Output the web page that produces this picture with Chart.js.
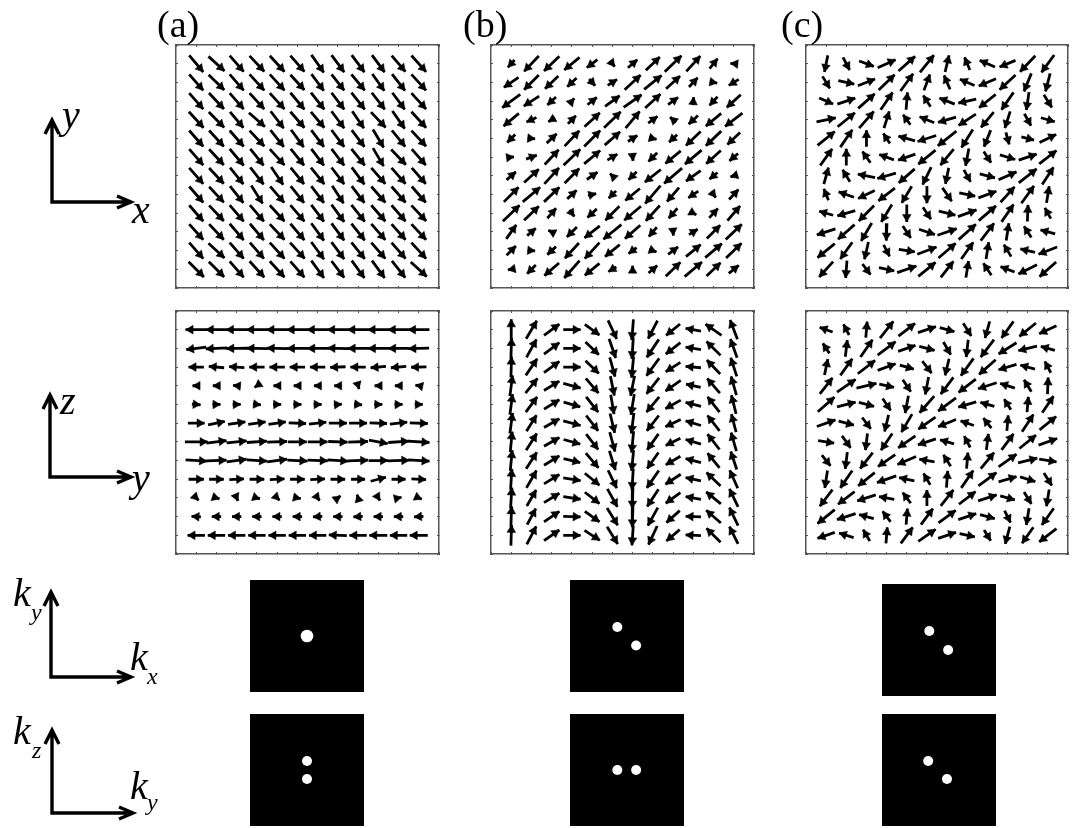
<!DOCTYPE html>
<html>
<head>
<meta charset="utf-8">
<title>Spin textures</title>
<script src="https://cdn.jsdelivr.net/npm/chart.js@4"></script>
<style>
    html, body { margin: 0; padding: 0; background: #fff; }
    #page { position: relative; width: 1075px; height: 828px; overflow: hidden; }
    #page canvas { position: absolute; }
    #page span { position: absolute; font-family: "Liberation Serif", serif; color: #000; white-space: nowrap; }
</style>
</head>
<body>
<div id="page"></div>
<script>
// Arrows: one row per line of the grid, top row first, as u,v pairs (v points up)
const xyA = [
    [42,-50, 48,-44, 42,-48, 44,-47, 44,-48, 42,-48, 37,-53, 38,-51, 38,-51, 38,-51, 41,-48, 44,-49],
    [42,-48, 47,-46, 42,-48, 44,-48, 44,-48, 42,-46, 37,-50, 38,-48, 40,-48, 36,-50, 39,-50, 44,-48],
    [42,-48, 45,-48, 42,-48, 44,-48, 44,-48, 42,-50, 40,-50, 38,-50, 40,-50, 39,-50, 37,-50, 44,-48],
    [44,-48, 46,-46, 40,-48, 48,-42, 39,-51, 42,-48, 40,-48, 38,-51, 35,-51, 44,-46, 37,-53, 44,-48],
    [42,-48, 44,-48, 42,-48, 44,-47, 40,-50, 38,-52, 38,-50, 38,-51, 38,-50, 32,-54, 40,-49, 44,-47],
    [42,-48, 44,-47, 42,-50, 40,-50, 44,-48, 40,-50, 38,-50, 38,-50, 40,-50, 32,-54, 44,-46, 42,-48],
    [42,-48, 44,-47, 40,-50, 40,-51, 36,-53, 40,-50, 40,-50, 38,-50, 38,-51, 42,-48, 42,-48, 42,-48],
    [42,-48, 44,-47, 40,-50, 34,-54, 42,-49, 40,-50, 38,-50, 34,-53, 38,-50, 42,-48, 42,-48, 42,-48],
    [42,-48, 44,-47, 42,-49, 42,-49, 44,-48, 42,-49, 38,-50, 38,-52, 40,-50, 42,-48, 42,-48, 44,-47],
    [42,-47, 44,-47, 42,-49, 42,-49, 44,-47, 42,-49, 38,-52, 38,-51, 40,-50, 42,-48, 42,-47, 44,-47],
    [42,-48, 48,-44, 42,-48, 42,-48, 44,-48, 44,-48, 38,-52, 38,-51, 40,-50, 42,-48, 42,-48, 44,-48],
    [46,-46, 46,-46, 42,-48, 44,-48, 44,-48, 42,-48, 38,-52, 38,-50, 38,-52, 38,-52, 40,-50, 48,-44]
];
const xyB = [
    [-20,-22, -44,-46, -46,-44, -46,-38, -32,-24, 14,-18, 28,24, 42,40, 50,48, 42,46, 24,30, -20,2],
    [-44,-30, -44,-44, -40,-38, -28,-26, 18,-20, 28,18, 48,44, 52,42, 42,38, 26,28, 22,-4, -30,-18],
    [-54,-40, -46,-30, -26,-24, 14,16, 28,22, 44,32, 54,38, 46,42, 30,22, 2,24, -24,-26, -42,-38],
    [-46,-38, -30,-14, -20,-12, 24,24, 46,42, 50,48, 42,50, 28,20, -18,16, -28,-26, -46,-38, -52,-40],
    [-24,-24, 22,-2, 30,28, 44,46, 48,48, 46,40, 28,18, 22,-6, -24,-22, -44,-42, -46,-44, -38,-36],
    [16,2, 32,12, 42,44, 50,48, 48,40, 30,18, 2,-22, -26,-26, -46,-38, -50,-42, -44,-40, -26,-22],
    [28,24, 44,40, 44,48, 44,44, 32,22, -14,14, -24,-24, -48,-38, -54,-46, -44,-32, -24,-20, -20,-6],
    [44,44, 52,44, 46,44, 28,26, 24,6, -22,-22, -44,-36, -46,-54, -36,-42, -30,-20, 14,-18, 28,30],
    [50,48, 44,42, 26,30, 14,-20, -28,-26, -42,-42, -50,-42, -42,-46, -26,-30, 18,-10, 26,28, 38,44],
    [30,42, 26,22, -20,10, -30,-30, -46,-36, -54,-44, -46,-40, -24,-28, 2,-22, 26,16, 40,40, 48,46],
    [28,28, 22,-2, -26,-24, -42,-46, -44,-48, -44,-36, -24,-18, 22,-8, 30,22, 44,36, 50,42, 46,44],
    [-20,-4, -26,-26, -44,-38, -46,-52, -44,-36, -24,-14, 0,22, 26,22, 44,42, 52,44, 42,40, 30,24]
];
const xyC = [
    [-10,-50, 20,-38, 44,-16, 54,24, 50,44, 42,52, 12,50, -16,38, -46,20, -48,-20, -46,-48, -38,-52],
    [22,-36, 48,-10, 52,20, 48,46, 38,52, 18,48, -18,42, -44,19, -52,-22, -48,-44, -22,-54, -14,-54],
    [42,-18, 54,18, 50,44, 36,52, 4,52, -22,34, -46,18, -54,-12, -50,-40, -36,-52, -8,-54, 24,-38],
    [58,12, 52,42, 44,50, 16,50, -22,30, -44,18, -54,-16, -52,-34, -38,-46, -16,-50, 20,-36, 42,-12],
    [52,42, 36,52, 0,50, -20,30, -50,14, -56,-18, -56,-44, -34,-54, -20,-50, 10,-36, 38,-10, 50,24],
    [36,50, 0,50, -24,34, -44,16, -52,-18, -52,-42, -40,-48, -10,-52, 22,-34, 46,-14, 54,18, 52,40],
    [14,50, -22,36, -52,10, -56,-16, -48,-42, -26,-52, -10,-48, 20,-36, 46,-12, 54,24, 54,42, 34,52],
    [-14,34, -46,16, -50,-24, -50,-38, -30,-50, 0,-52, 28,-40, 48,-10, 54,20, 42,46, 38,52, 8,50],
    [-42,12, -54,-16, -46,-46, -32,-52, 0,-52, 24,-36, 50,-12, 56,20, 52,44, 36,52, 2,50, -18,32],
    [-56,-18, -50,-44, -32,-54, -2,-52, 24,-36, 48,-16, 58,20, 52,46, 40,52, 8,52, -22,34, -44,12],
    [-52,-42, -36,-50, -12,-52, 18,-34, 48,-8, 58,22, 52,44, 36,50, 8,50, -22,36, -44,10, -56,-22],
    [-42,-46, -4,-52, 24,-32, 46,-10, 58,20, 52,42, 38,48, 8,50, -24,36, -42,16, -56,-28, -50,-44]
];
const yzA = [
    [-64,0, -64,0, -64,0, -64,0, -64,0, -64,0, -64,0, -64,0, -64,0, -64,0, -64,0, -64,0],
    [-60,-7, -64,-3, -62,-1, -62,1, -62,2, -62,0, -62,0, -62,2, -62,0, -62,0, -62,0, -62,-2],
    [-46,0, -46,4, -46,3, -46,0, -46,0, -46,0, -46,0, -46,-2, -46,0, -46,-4, -46,-4, -46,-1],
    [-22,0, -22,0, -22,2, -14,-10, -22,0, -22,0, -22,0, -22,0, 6,-20, -22,0, -22,0, -20,4],
    [26,-2, 24,0, 24,0, 24,-3, 24,0, 24,0, 24,0, 24,2, 24,-2, 24,0, 24,0, 24,0],
    [50,0, 50,10, 52,8, 52,8, 52,8, 52,-2, 52,6, 54,0, 54,0, 52,-2, 52,6, 54,-2],
    [68,0, 60,8, 60,6, 60,4, 60,2, 56,0, 59,0, 58,-2, 59,2, 56,-10, 62,4, 64,-4],
    [64,-4, 60,2, 60,8, 60,-4, 60,8, 60,-3, 60,-2, 62,-4, 60,2, 58,0, 64,2, 64,-4],
    [46,0, 44,0, 44,2, 44,0, 44,2, 44,0, 44,2, 44,0, 42,0, 46,12, 42,0, 44,-2],
    [14,-14, 18,-6, 8,-18, 18,-6, 14,-14, 20,-4, 12,-16, 16,12, -6,20, 10,-16, 18,4, 18,-8],
    [-28,2, -28,0, -28,0, -28,0, -28,0, -28,0, -28,-2, -28,0, -28,-2, -28,0, -28,0, -28,-2],
    [-52,0, -52,0, -52,0, -52,0, -52,0, -52,0, -52,0, -54,2, -52,0, -54,0, -52,0, -54,0]
];
// this panel reads easier down its columns, left column first, top row first
const yzBColumns = [
    [0,62, 2,62, 2,62, 8,62, 8,62, 8,62, 6,62, 6,62, 4,62, 4,62, 2,62, 2,62],
    [32,54, 30,54, 34,50, 36,44, 34,46, 30,48, 32,50, 32,50, 30,52, 28,48, 26,48, 28,54],
    [46,34, 46,34, 46,34, 46,28, 46,28, 46,26, 46,26, 46,28, 46,28, 46,28, 46,32, 46,32],
    [52,0, 52,0, 52,0, 52,-14, 50,-14, 52,-14, 50,-14, 50,-12, 52,-8, 52,-8, 52,-2, 52,0],
    [44,-32, 40,-38, 40,-38, 38,-44, 36,-46, 36,-46, 36,-46, 38,-44, 44,-36, 44,-34, 44,-32, 46,-30],
    [26,-56, 20,-58, 16,-58, 12,-58, 10,-58, 14,-58, 16,-58, 18,-58, 26,-54, 30,-54, 32,-52, 32,-52],
    [-5,-62, -4,-64, -6,-64, -12,-60, -10,-62, -8,-62, -6,-64, -6,-62, -4,-64, -2,-64, -2,-64, -4,-60],
    [-28,-54, -36,-54, -38,-52, -38,-48, -38,-46, -36,-46, -34,-48, -34,-48, -36,-52, -34,-52, -30,-54, -26,-56],
    [-42,-34, -44,-34, -44,-28, -46,-32, -46,-26, -46,-22, -44,-22, -44,-26, -46,-30, -44,-32, -40,-36, -40,-34],
    [-46,8, -46,8, -46,4, -44,10, -46,12, -46,14, -46,14, -46,12, -46,10, -46,8, -46,2, -46,2],
    [-48,34, -42,42, -40,42, -38,44, -36,46, -36,46, -36,46, -36,44, -42,40, -44,36, -44,38, -42,42],
    [-22,58, -20,56, -18,56, -16,56, -14,56, -14,54, -16,56, -18,54, -24,54, -26,54, -26,54, -26,52]
];
const yzC = [
    [-39,14, -17,32, 4,48, 40,50, 50,38, 54,18, 44,-12, 24,-38, -14,-50, -36,-50, -50,-40, -52,-24],
    [-20,30, 6,50, 36,52, 54,40, 52,18, 46,-12, 22,-38, -6,-52, -40,-52, -54,-34, -56,-14, -42,12],
    [10,48, 36,50, 52,40, 54,20, 42,-12, 28,-36, -12,-50, -38,-52, -50,-44, -54,-16, -44,12, -18,34],
    [38,48, 56,38, 60,14, 44,-10, 24,-36, -10,-52, -38,-50, -52,-40, -56,-18, -44,14, -22,36, 2,50],
    [50,44, 56,14, 46,-12, 24,-36, -10,-52, -44,-50, -54,-40, -54,-16, -42,12, -20,32, 4,46, 34,50],
    [56,20, 46,-12, 26,-34, -12,-50, -32,-54, -52,-36, -54,-22, -40,14, -24,30, 4,46, 34,52, 50,40],
    [48,-8, 26,-36, -6,-50, -34,-50, -52,-36, -54,-18, -42,12, -18,34, 6,48, 36,48, 50,40, 56,20],
    [26,-32, -6,-50, -38,-48, -52,-36, -56,-24, -46,8, -22,34, 4,48, 40,48, 54,38, 58,14, 52,-8],
    [-8,-52, -36,-52, -50,-40, -58,-20, -46,10, -20,34, 4,50, 36,52, 54,40, 54,16, 46,-14, 24,-38],
    [-38,-50, -50,-38, -56,-18, -46,8, -24,32, 0,48, 38,48, 50,38, 56,18, 44,-12, 22,-36, -8,-50],
    [-52,-42, -56,-18, -44,12, -24,32, 4,48, 36,48, 52,38, 54,18, 44,-12, 18,-36, -8,-50, -36,-50],
    [-52,-18, -44,14, -20,34, 4,48, 36,48, 52,36, 54,18, 46,-10, 20,-32, -14,-52, -34,-48, -52,-40]
];

// Bright spots in the k maps, kx,ky pairs on a -1..1 scale
const peaksXYa = [0,0];
const peaksXYb = [-0.17,0.16, 0.16,-0.17];
const peaksXYc = [-0.17,0.16, 0.16,-0.18];
const peaksYZa = [0,0.16, 0,-0.16];
const peaksYZb = [-0.17,0, 0.16,0];
const peaksYZc = [-0.19,0.16, 0.14,-0.16];

const GRID = 12;
const UNITS_X = 60.7;   // arrow units per grid cell
const UNITS_Y = 56.1;
const HEAD = 5;         // arrowhead radius, px

const page = document.getElementById('page');

function addCanvas(x, y, w, h) {
    const c = document.createElement('canvas');
    c.width = w; c.height = h;
    c.style.left = x + 'px'; c.style.top = y + 'px';
    c.style.width = w + 'px'; c.style.height = h + 'px';
    page.appendChild(c);
    return c;
}

function addLabel(text, x, baseline, size, italic) {
    const s = document.createElement('span');
    s.textContent = text;
    s.style.left = x + 'px';
    s.style.top = (baseline - size * 0.891) + 'px';
    s.style.fontSize = size + 'px';
    if (italic) s.style.fontStyle = 'italic';
    page.appendChild(s);
}

function frameAxis(position) {
    const horizontal = position === 'top' || position === 'bottom';
    return {
        type: 'linear', position: position, min: 0, max: GRID + 1,
        ticks: { display: false, stepSize: 1, autoSkip: false },
        grid: { drawOnChartArea: false, drawTicks: true, tickLength: -2, color: '#555' },
        border: { display: true, color: '#555', width: 1.5 },
        afterFit: function (s) { if (horizontal) s.height = 0; else s.width = 0; }
    };
}

// Quiver panel: shafts are one broken line, heads are rotated triangle points
function quiver(vectors, x, y, w, h) {
    const pxX = w / (GRID + 1), pxY = h / (GRID + 1);
    const shafts = [], heads = [], angles = [];
    vectors.forEach(function (row, r) {
        for (let c = 0; c < GRID; c++) {
            const u = row[c * 2] / UNITS_X, v = row[c * 2 + 1] / UNITS_Y;
            const cx = c + 1, cy = GRID - r;
            const sx = u * pxX, sy = v * pxY;
            const len = Math.hypot(sx, sy) || 1;
            const tipX = cx + u / 2, tipY = cy + v / 2;
            shafts.push({ x: cx - u / 2, y: cy - v / 2 }, { x: tipX, y: tipY }, { x: NaN, y: NaN });
            heads.push({ x: tipX - (sx / len) * HEAD / pxX, y: tipY - (sy / len) * HEAD / pxY });
            angles.push(Math.atan2(sx, sy) * 180 / Math.PI);
        }
    });
    new Chart(addCanvas(x - 2, y - 2, w + 4, h + 4), {
        type: 'scatter',
        data: {
            datasets: [
                { data: shafts, showLine: true, borderColor: '#000', borderWidth: 2.8, pointRadius: 0, spanGaps: false },
                { data: heads, pointStyle: 'triangle', pointRadius: HEAD, pointRotation: angles,
                  backgroundColor: '#000', borderColor: '#000', borderWidth: 0.5 }
            ]
        },
        options: {
            responsive: false, animation: false, events: [],
            layout: { padding: 2, autoPadding: false },
            plugins: { legend: { display: false }, tooltip: { enabled: false } },
            scales: {
                x: frameAxis('bottom'), x2: frameAxis('top'),
                y: frameAxis('left'), y2: frameAxis('right')
            }
        }
    });
}

// k-space map: white spots on a black square
function kMap(peaks, radius, x, y, w, h) {
    const spots = [];
    for (let i = 0; i < peaks.length; i += 2) spots.push({ x: peaks[i], y: peaks[i + 1] });
    const c = addCanvas(x, y, w, h);
    c.style.background = '#000';
    new Chart(c, {
        type: 'scatter',
        data: { datasets: [{ data: spots, pointRadius: radius, backgroundColor: '#fff', borderWidth: 0 }] },
        options: {
            responsive: false, animation: false, events: [],
            layout: { padding: 0, autoPadding: false },
            plugins: { legend: { display: false }, tooltip: { enabled: false } },
            scales: {
                x: { display: false, min: -1, max: 1 },
                y: { display: false, min: -1, max: 1 }
            }
        }
    });
}

quiver(xyA, 176, 45, 263, 243);
quiver(xyB, 491, 45, 263, 243);
quiver(xyC, 806, 45, 262, 243);

const yzB = yzBColumns[0].slice(0, GRID).map(function (_, r) {
    const row = [];
    yzBColumns.forEach(function (col) { row.push(col[r * 2], col[r * 2 + 1]); });
    return row;
});
quiver(yzA, 176, 311, 263, 243);
quiver(yzB, 491, 311, 263, 243);
quiver(yzC, 806, 311, 262, 243);

kMap(peaksXYa, 6.3, 250, 580, 114, 112);
kMap(peaksXYb, 5, 570, 580, 114, 112);
kMap(peaksXYc, 5, 882, 584, 114, 112);
kMap(peaksYZa, 5, 250, 714, 114, 112);
kMap(peaksYZb, 5, 570, 714, 114, 112);
kMap(peaksYZc, 5, 882, 714, 114, 112);

// Axis keys on the left, one chart in page pixels
const keyOrigins = [[52, 202], [50, 477], [51, 677], [52, 813]];
const keyUp = [82, 82, 85, 83];
const keyRight = [79, 81, 80, 81];
const keyLines = [];
keyOrigins.forEach(function (o, i) {
    const top = o[1] - keyUp[i], end = o[0] + keyRight[i];
    keyLines.push(
        { x: o[0], y: top }, { x: o[0], y: o[1] }, { x: end, y: o[1] }, { x: NaN, y: NaN },
        { x: o[0] - 7, y: top + 14 }, { x: o[0], y: top }, { x: o[0] + 7, y: top + 14 }, { x: NaN, y: NaN },
        { x: end - 14, y: o[1] - 6 }, { x: end, y: o[1] }, { x: end - 14, y: o[1] + 6 }, { x: NaN, y: NaN }
    );
});
new Chart(addCanvas(0, 0, 170, 828), {
    type: 'scatter',
    data: { datasets: [{ data: keyLines, showLine: true, borderColor: '#000', borderWidth: 3.4, pointRadius: 0, spanGaps: false }] },
    options: {
        responsive: false, animation: false, events: [],
        layout: { padding: 0, autoPadding: false },
        plugins: { legend: { display: false }, tooltip: { enabled: false } },
        scales: {
            x: { display: false, min: 0, max: 170 },
            y: { display: false, min: 0, max: 828, reverse: true }
        }
    }
});

addLabel('(a)', 157, 36, 38, false);
addLabel('(b)', 463, 36, 38, false);
addLabel('(c)', 781, 36, 38, false);
addLabel('y', 62, 127, 40, true);
addLabel('x', 132, 222, 40, true);
addLabel('z', 60, 413, 40, true);
addLabel('y', 132, 490, 40, true);
addLabel('k', 13, 605, 40, true);
addLabel('y', 31, 620, 24, true);
addLabel('k', 130, 669, 40, true);
addLabel('x', 147, 684, 24, true);
addLabel('k', 13, 743, 40, true);
addLabel('z', 32, 758, 24, true);
addLabel('k', 130, 798, 40, true);
addLabel('y', 147, 810, 24, true);
</script>
</body>
</html>
